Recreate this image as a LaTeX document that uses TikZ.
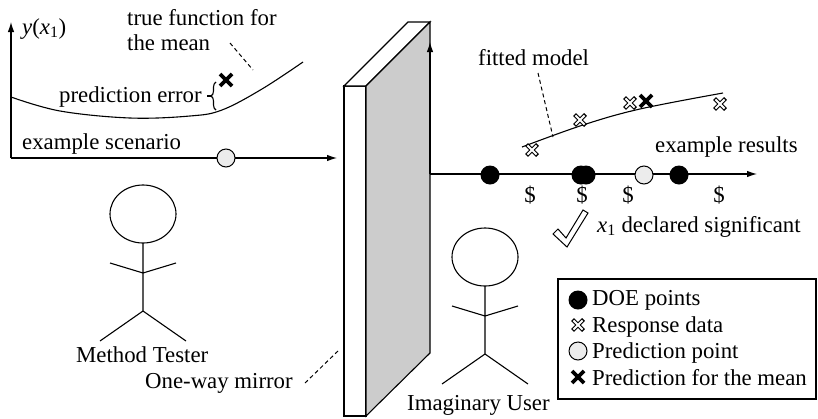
\documentclass[tikz,border=0pt]{standalone}
\usepackage{fontspec}
\setmainfont{Liberation Serif}
\usetikzlibrary{arrows.meta,decorations.pathreplacing}

\tikzset{
  line/.style={line width=1.1pt},
  axis/.style={line width=1.1pt, -{Latex[length=10pt,width=6.5pt]}},
  lbl/.style={inner sep=0pt, anchor=base west, font=\fontsize{22.8}{26}\selectfont},
  lblc/.style={lbl, anchor=base},
  leader/.style={line width=1pt, dash pattern=on 4pt off 3pt},
  doe/.style={circle, fill=black, minimum size=19pt, inner sep=0pt},
  pred/.style={circle, draw, line width=1pt, fill=gray!15, minimum size=18pt, inner sep=0pt},
  resp/.pic={
    \draw[line width=4.2pt] (-5.5,-5.5) -- (5.5,5.5) (-5.5,5.5) -- (5.5,-5.5);
    \draw[white, line width=1.8pt] (-4.6,-4.6) -- (4.6,4.6) (-4.6,4.6) -- (4.6,-4.6);
  },
  meanx/.pic={
    \draw[line width=3.6pt] (-6,-6) -- (6,6) (-6,6) -- (6,-6);
  },
  stickman/.pic={
    \draw[line] (0,0) ellipse [x radius=33, y radius=29];
    \draw[line] (0,29) -- (0,97) -- (-43,127) (0,97) -- (43,127)
                (-33,49) -- (0,59) -- (33,49);
  },
}

\begin{document}
\begin{tikzpicture}[x=1pt, y=-1pt]
  \useasboundingbox (0,0) rectangle (818,418);

  % ---- left panel: scenario axes and true function ----
  \coordinate (lo) at (11,158);
  \coordinate (ltop) at (11,22);
  \coordinate (lend) at (337,158);
  \draw[axis] (lo) -- (ltop);
  \draw[axis] (lo) -- (lend);
  \node[lbl] (ylab) at (22,34) {\textit{y}(\textit{x}\textsubscript{1})};

  \draw[line] plot[smooth, tension=0.6] coordinates
    {(11,97) (60,111) (130,118) (190,116) (222,110) (262,89) (303,62)};

  \node[lbl] (tf1) at (127,25) {true function for};
  \node[lbl] (tf2) at (127,50) {the mean};
  \coordinate (tfend) at (253,70);
  \draw[leader] (230,43) -- (tfend);

  \pic at (226,80) {meanx};
  \draw[line, decorate, decoration={brace, amplitude=5pt}] (216,110) -- (216,82);
  \node[lbl] (perr) at (59,102) {prediction error};
  \draw[line] (207,96) -- (212,96);

  \node[lbl] (exs) at (22,149) {example scenario};
  \node[pred] (pp1) at (226,158) {};

  % ---- one-way mirror ----
  \draw[line, fill=white] (344,86) rectangle (366,416);
  \draw[line, fill=white] (344,86) -- (408,22) -- (430,22) -- (366,86) -- cycle;
  \draw[line, fill=gray!40] (366,86) -- (430,22) -- (430,353) -- (366,416) -- cycle;

  % ---- right panel: results axes ----
  \coordinate (ro) at (430,174);
  \coordinate (rtop) at (430,42);
  \coordinate (rend) at (757,174);
  \draw[axis] (ro) -- (rtop);
  \draw[axis] (ro) -- (rend);

  \draw[line] plot[smooth, tension=0.6] coordinates
    {(522,147) (583,125) (640,109) (723,93)};
  \node[lbl] (fm) at (478,65) {fitted model};
  \coordinate (fmend) at (553,137);
  \draw[leader] (538,73) -- (fmend);

  \pic at (532,150) {resp};
  \pic at (580,120) {resp};
  \pic at (630,103) {resp};
  \pic at (720,104) {resp};
  \pic at (646,101) {meanx};

  \node[lbl] (exr) at (655,152) {example results};

  \node[doe] (d1) at (490,175) {};
  \node[doe] (d2) at (581,175) {};
  \node[doe] (d3) at (586,175) {};
  \node[pred] (pp2) at (644,175) {};
  \node[doe] (d4) at (679,175) {};

  \node[lblc] (c1) at (530,202) {\$};
  \node[lblc] (c2) at (582,202) {\$};
  \node[lblc] (c3) at (628,202) {\$};
  \node[lblc] (c4) at (719,202) {\$};

  \draw[line width=1pt, fill=white] (553,234) -- (558,229) -- (566,238) -- (583,210)
    -- (588,213) -- (567,247) -- cycle;
  \node[lbl] (sig) at (597,232) {\textit{x}\textsubscript{1} declared significant};

  % ---- people ----
  \pic at (143,214) {stickman};
  \node[lbl] (mt) at (76,362) {Method Tester};
  \pic at (485,257) {stickman};
  \node[lbl] (iu) at (407,410) {Imaginary User};

  \node[lbl] (owm) at (145,388) {One-way mirror};
  \coordinate (owmend) at (339,350);
  \draw[leader] (305,383) -- (owmend);

  % ---- legend ----
  \draw[line] (558,279) rectangle (816,399);
  \node[doe] (ld) at (578,300) {};
  \node[lbl] (l1) at (592,305) {DOE points};
  \pic at (578,325) {resp};
  \node[lbl] (l2) at (592,332) {Response data};
  \node[pred] (lp) at (578,351) {};
  \node[lbl] (l3) at (592,358) {Prediction point};
  \pic at (578,377) {meanx};
  \node[lbl] (l4) at (592,385) {Prediction for the mean};
\end{tikzpicture}
\end{document}
